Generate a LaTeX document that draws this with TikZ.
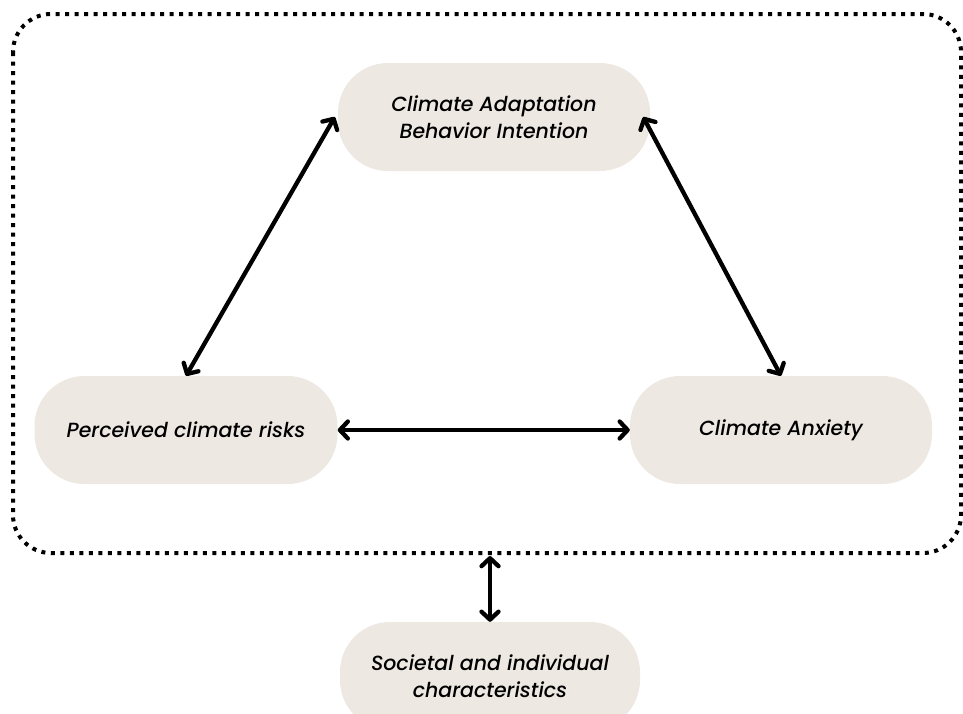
\documentclass[tikz,border=0pt]{standalone}
\usepackage{fontspec}
\setmainfont{Poppins}[UprightFont=* Medium, ItalicFont=* Medium Italic]
\usetikzlibrary{arrows.meta}
\definecolor{boxfill}{RGB}{237,232,226}
\begin{document}
\begin{tikzpicture}[x=1pt,y=-1pt,
  pill/.style={fill=boxfill, rounded corners=50pt, minimum width=#1, minimum height=108pt, align=center,
     font=\fontsize{20.5}{27.5}\selectfont\itshape, inner sep=0pt},
  conn/.style={line width=4.3pt, {Straight Barb[length=8pt,width=17pt,line width=4.3pt,round]}-{Straight Barb[length=8pt,width=17pt,line width=4.3pt,round]}}
]
\useasboundingbox (0,0) rectangle (963,713);
\draw[line width=4pt, dash pattern=on 4pt off 5.5pt, rounded corners=38pt] (13,14) rectangle (961,553);
\node[pill=312pt] (cab) at (494,117) {Climate Adaptation\\Behavior Intention};
\node[pill=303pt] (pcr) at (186,430) {Perceived climate risks};
\node[pill=302pt] (ca) at (781,430) {Climate Anxiety};
\node[pill=300pt] (sic) at (490,676) {Societal and individual\\characteristics};
\coordinate (boxb) at (490,556);
\draw[conn] (pcr.north) -- ([xshift=-3pt]cab.west);
\draw[conn] ([xshift=-7pt]cab.east) -- (ca.north);
\draw[conn] (pcr.east) -- (ca.west);
\draw[conn] (boxb) -- (sic.north);
\end{tikzpicture}
\end{document}
